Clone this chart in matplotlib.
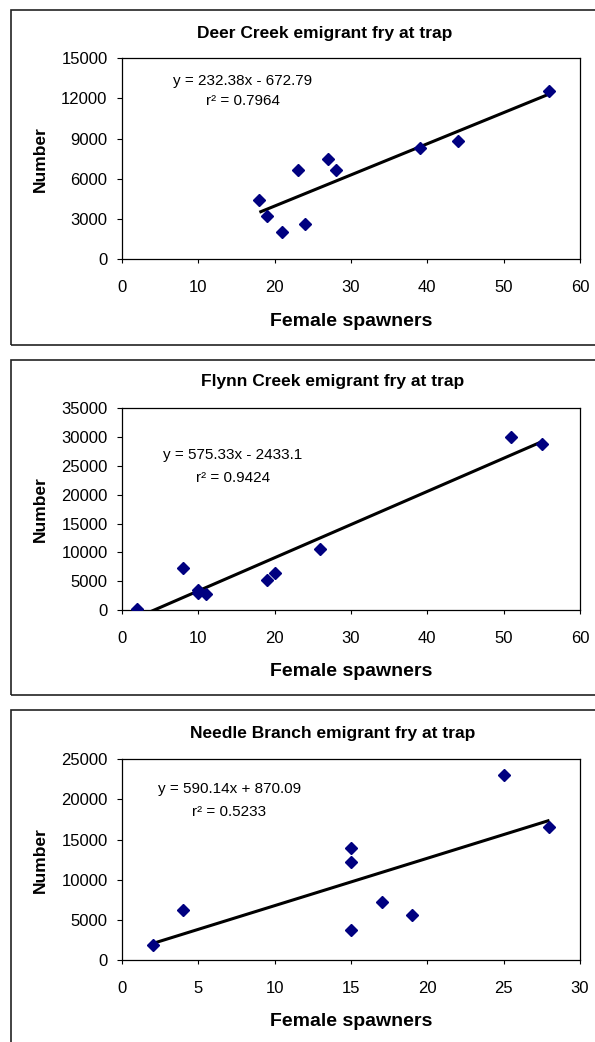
import matplotlib
matplotlib.use("Agg")
import matplotlib.pyplot as plt
from matplotlib.patches import Rectangle

plt.rcParams['font.family'] = ['Liberation Sans', 'DejaVu Sans']

# Deer Creek
deer_x = [18, 19, 21, 23, 24, 27, 28, 39, 44, 56]
deer_y = [4400, 3250, 2050, 6650, 2600, 7450, 6650, 8300, 8800, 12550]
# Flynn Creek
flynn_x = [2, 8, 10, 10, 11, 19, 20, 26, 51, 55]
flynn_y = [100, 7250, 3500, 3000, 2700, 5200, 6500, 10500, 30000, 28800]
# Needle Branch
needle_x = [2, 4, 15, 15, 15, 17, 19, 25, 28]
needle_y = [1900, 6200, 14000, 12200, 3700, 7250, 5600, 23100, 16600]

titles = ["Deer Creek emigrant fry at trap",
          "Flynn Creek emigrant fry at trap",
          "Needle Branch emigrant fry at trap"]
slopes = [232.38, 575.33, 590.14]
intercepts = [-672.79, -2433.1, 870.09]
eq_text = ["y = 232.38x - 672.79", "y = 575.33x - 2433.1", "y = 590.14x + 870.09"]
r2_text = ["r\u00b2 = 0.7964", "r\u00b2 = 0.9424", "r\u00b2 = 0.5233"]
xmax = [60, 60, 30]
xstep = [10, 10, 5]
ymax = [15000, 35000, 25000]
ystep = [3000, 5000, 5000]

W, H = 595, 1042
fig = plt.figure(figsize=(W / 100, H / 100), dpi=100)

def fx(px):
    return px / W

def fy(py):
    return 1 - py / H

# pixel layout of each panel
ax_top = [58.3, 408.3, 759.3]
ax_bot = [259.3, 610, 960]
box_top = [9.5, 360, 710]
box_bot = [345, 695, 1060]
title_x = [325, 333, 333]
title_base = [38, 386, 738]
eq_pos = [(0.2635, 0.887, 0.787), (0.242, 0.768, 0.654), (0.234, 0.851, 0.736)]

data = [(deer_x, deer_y), (flynn_x, flynn_y), (needle_x, needle_y)]

for i in range(3):
    xs, ys = data[i]
    fig.add_artist(Rectangle((fx(10.5), fy(box_bot[i])), fx(620) - fx(10.5),
                             fy(box_top[i]) - fy(box_bot[i]),
                             transform=fig.transFigure, fill=False,
                             ec='#222222', lw=1.2))
    ax = fig.add_axes([fx(122), fy(ax_bot[i]), fx(580) - fx(122),
                       fy(ax_top[i]) - fy(ax_bot[i])])
    ax.plot(xs, ys, ls='none', marker='D', ms=6, color='#000080', zorder=3)
    x0, x1 = min(xs), max(xs)
    ax.plot([x0, x1], [slopes[i] * x0 + intercepts[i], slopes[i] * x1 + intercepts[i]],
            color='black', lw=2.2, solid_capstyle='butt', zorder=2)
    ax.set_xlim(0, xmax[i])
    ax.set_ylim(0, ymax[i])
    ax.set_xticks(range(0, xmax[i] + 1, xstep[i]))
    ax.set_yticks(range(0, ymax[i] + 1, ystep[i]))
    ax.tick_params(axis='x', direction='out', length=3, width=0.8, pad=12, labelsize=12)
    ax.tick_params(axis='y', direction='out', length=3.4, width=0.8, pad=7, labelsize=12)
    for s in ax.spines.values():
        s.set_linewidth(0.9)
        s.set_color('black')
    ax.text(eq_pos[i][0], eq_pos[i][1], eq_text[i], transform=ax.transAxes,
            ha='center', va='center', fontsize=11)
    ax.text(eq_pos[i][0], eq_pos[i][2], r2_text[i], transform=ax.transAxes,
            ha='center', va='center', fontsize=11)
    fig.text(fx(title_x[i]), fy(title_base[i]), titles[i], ha='center',
             va='baseline', fontsize=12.5, fontweight='bold')
    fig.text(fx(351.5), fy(ax_bot[i] + 66.5), "Female spawners", ha='center',
             va='baseline', fontsize=14, fontweight='bold')
    fig.text(fx(40), fy((ax_top[i] + ax_bot[i]) / 2), "Number", ha='center',
             va='center', rotation=90, fontsize=12.5, fontweight='bold')

fig.savefig('out.png', dpi=100)
